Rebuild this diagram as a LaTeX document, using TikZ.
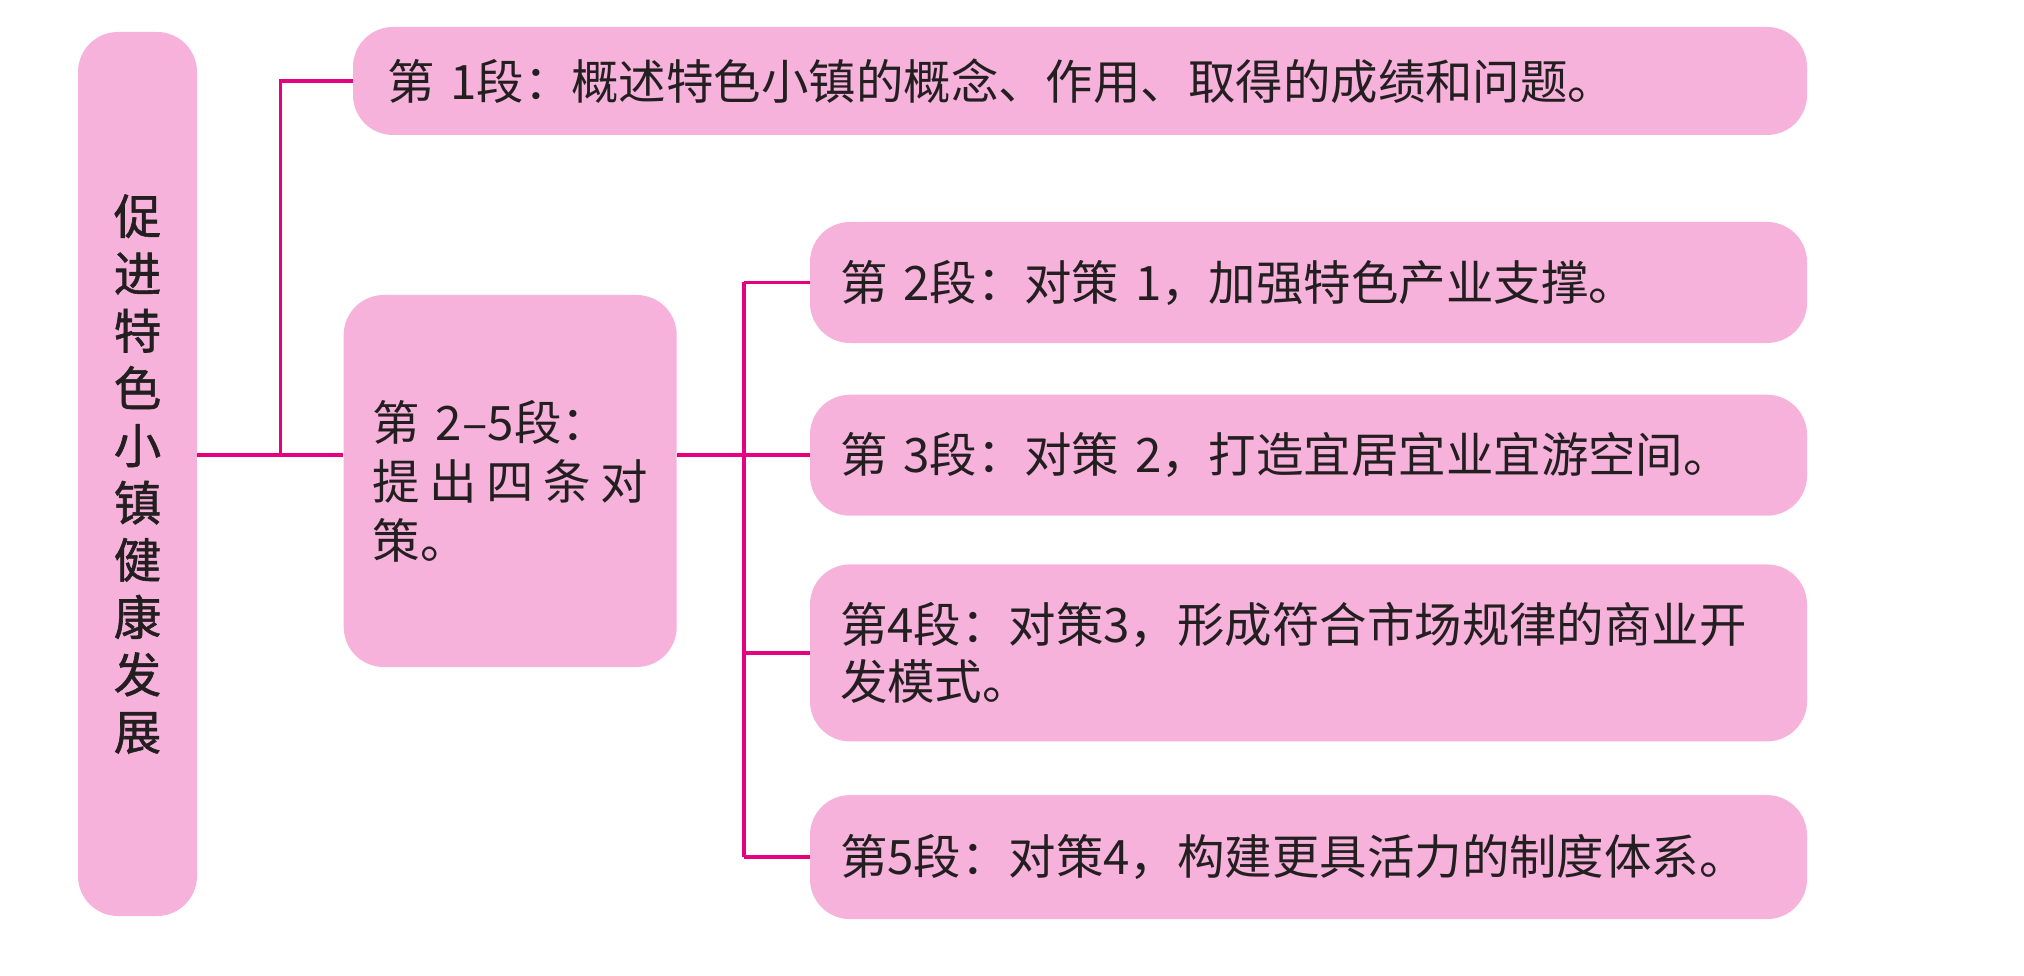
\documentclass[tikz,border=0pt]{standalone}
\usepackage{fontspec}
\newfontfamily\cjk{Noto Sans CJK SC}
\newfontfamily\cjkhead{Noto Sans CJK SC}[FakeBold=1.2]
\usetikzlibrary{positioning}
\definecolor{boxpink}{RGB}{247,178,219}
\definecolor{linkred}{RGB}{228,0,127}
\definecolor{inkdark}{RGB}{35,31,32}

\begin{document}
\begin{tikzpicture}[
  topic/.style={
    fill=boxpink, rounded corners=0.8cm,
    minimum width=2.38cm, minimum height=17.68cm,
    inner sep=0pt, align=center, text=inkdark,
    font=\cjkhead\fontsize{27pt}{32.6pt}\selectfont
  },
  part/.style={
    fill=boxpink, rounded corners=0.8cm,
    minimum height=7.44cm,
    inner xsep=0.58cm, text width=5.5cm, align=left, text=inkdark,
    font=\cjk\fontsize{27pt}{33.5pt}\selectfont
  },
  para/.style={
    fill=boxpink, rounded corners=0.8cm,
    minimum height=2.42cm,
    inner xsep=0.6cm, text width=18.74cm, align=left, text=inkdark,
    font=\cjk\fontsize{27pt}{32.4pt}\selectfont
  },
  link/.style={draw=linkred, line width=2pt}
]
  \useasboundingbox (0,0) rectangle (40.48,19.5);

  \node[topic] (root) at (2.75,10.02)
    {促\\进\\特\\色\\小\\镇\\健\\康\\发\\展};

  \node[para, inner xsep=0.68cm, text width=27.72cm, minimum height=2.16cm] (p1) at (21.6,17.88)
    {第 1段：概述特色小镇的概念、作用、取得的成绩和问题。};

  \node[part, right=2.92cm of root, yshift=-0.14cm] (mid)
    {第 2–5段：\\提\hfill 出\hfill 四\hfill 条\hfill 对\\策。};

  \node[para] (p2) at (26.17,13.85) {第 2段：对策 1，加强特色产业支撑。};
  \node[para, below=1.02cm of p2] (p3) {第 3段：对策 2，打造宜居宜业宜游空间。};
  \node[para, below=0.96cm of p3, minimum height=3.54cm] (p4)
    {第4段：对策3，形成符合市场规律的商业开\\发模式。};
  \node[para, below=1.06cm of p4, minimum height=2.48cm] (p5) {第5段：对策4，构建更具活力的制度体系。};

  \path (root.east |- p3.west) ++(1.66,0) coordinate (j1);
  \path (mid.east |- p3.west) ++(1.34,0) coordinate (j2);

  \draw[link] (root.east |- p3.west) -- (mid.west |- p3.west);
  \draw[link] (j1) |- (p1.west);
  \draw[link] (mid.east |- p3.west) -- (p3.west);
  \draw[link] (j2 |- p2.west) -- (j2 |- p5.west);
  \foreach \n in {2,4,5}
    \draw[link] (j2 |- p\n.west) -- (p\n.west);

\end{tikzpicture}
\end{document}
